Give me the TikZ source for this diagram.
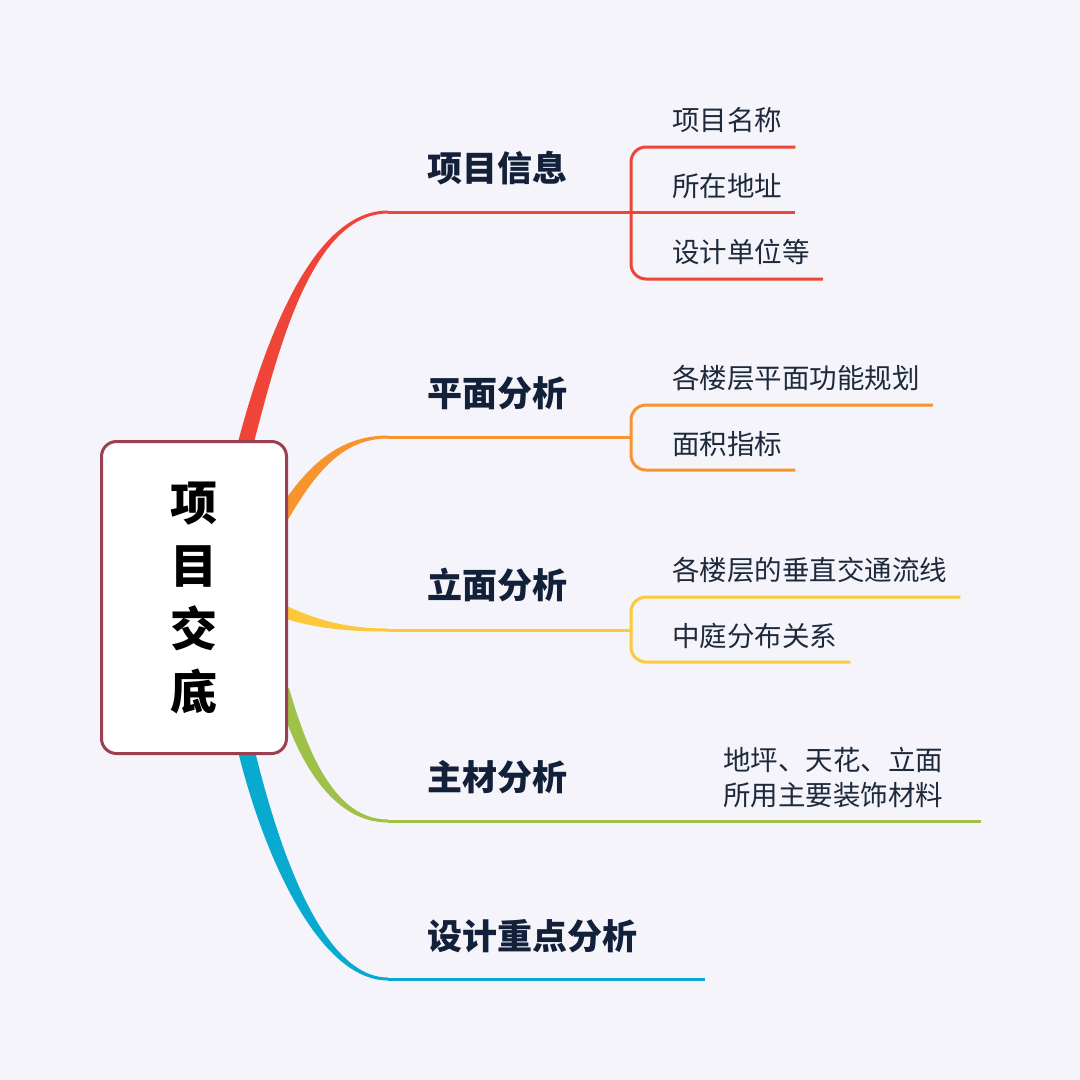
\documentclass[tikz,border=0pt]{standalone}
\usepackage{fontspec}
\setmainfont{Noto Sans CJK SC}
\usetikzlibrary{calc}

\definecolor{bgc}{HTML}{F4F4FA}
\definecolor{boxc}{HTML}{9B4050}
\definecolor{cred}{HTML}{EF4438}
\definecolor{corange}{HTML}{F7942D}
\definecolor{cyellow}{HTML}{FDC93A}
\definecolor{cgreen}{HTML}{A0C148}
\definecolor{cblue}{HTML}{09AAD0}
\definecolor{topictext}{HTML}{13203A}
\definecolor{subtext}{HTML}{1E2A3B}

\begin{document}
\begin{tikzpicture}[x=1pt,y=-1pt,
  topic/.style={anchor=west,inner sep=0pt,font=\fontsize{35}{40}\selectfont\bfseries,text=topictext},
  sub/.style={anchor=west,inner sep=0pt,font=\fontsize{27.5}{35}\selectfont,text=subtext},
  stem/.style={line width=3pt},
  brace/.style={line width=3pt,rounded corners=15pt}]
  \fill[bgc] (0,0) rectangle (1080,1080);

  % tapered branches, drawn under the central box
  \fill[cred] (237,446) .. controls (262,350) and (310,210.5) .. (388,210.5)
    -- (388,213.5) .. controls (312,213.5) and (278,350) .. (253,446) -- cycle;
  \fill[corange] (274,517) .. controls (305,467) and (338,435.5) .. (388,435.5)
    -- (388,438.5) .. controls (342,438.5) and (315,473) .. (286,523) -- cycle;
  \fill[cyellow] (280,603) .. controls (310,617) and (340,628.5) .. (388,628.5)
    -- (388,631.5) .. controls (340,631.5) and (310,627) .. (280,617) -- cycle;
  \fill[cgreen] (289,688) .. controls (309,758) and (337,819.5) .. (388,819.5)
    -- (388,822.5) .. controls (333,822.5) and (297,762) .. (277,692) -- cycle;
  \fill[cblue] (253,743) .. controls (278,848) and (322,977.5) .. (388,977.5)
    -- (388,980.5) .. controls (318,980.5) and (262,852) .. (237,747) -- cycle;

  \node[draw=boxc,line width=3pt,fill=white,rounded corners=15pt,
    minimum width=185pt,minimum height=312pt,align=center,
    font=\fontsize{47}{63}\selectfont\bfseries] (root) at (194,597.5)
    {项\\目\\交\\底};

  \coordinate (rEnd) at (388,212);
  \coordinate (oEnd) at (388,437);
  \coordinate (yEnd) at (388,630);
  \coordinate (gEnd) at (388,821);
  \coordinate (bEnd) at (388,979);

  % main topics
  \node[topic] (info)   at (427,168) {项目信息};
  \node[topic] (plan)   at (427,393) {平面分析};
  \node[topic] (elev)   at (427,585) {立面分析};
  \node[topic] (mater)  at (427,777) {主材分析};
  \node[topic] (design) at (427,936) {设计重点分析};

  % sub topics
  \node[sub] (r1) at (672,120) {项目名称};
  \node[sub] (r2) at (672,186) {所在地址};
  \node[sub] (r3) at (672,252) {设计单位等};
  \node[sub] (o1) at (672,378) {各楼层平面功能规划};
  \node[sub] (o2) at (672,444) {面积指标};
  \node[sub] (y1) at (672,570) {各楼层的垂直交通流线};
  \node[sub] (y2) at (672,636) {中庭分布关系};
  \node[sub,align=left,font=\fontsize{27.5}{35}\selectfont] (g1) at (723,777.5)
    {地坪、天花、立面\\所用主要装饰材料};

  % red
  \draw[stem,cred] (rEnd) -- ($(r2.east)+(13,26)$);
  \draw[brace,cred] ($(r1.east)+(13,27)$) -- (631,147) -- (631,279) -- ($(r3.east)+(13,27)$);
  % orange
  \draw[stem,corange] (oEnd) -- (631,437);
  \draw[brace,corange] ($(o1.east)+(13,27)$) -- (631,405) -- (631,470) -- ($(o2.east)+(13,26)$);
  % yellow
  \draw[stem,cyellow] (yEnd) -- (631,630);
  \draw[brace,cyellow] ($(y1.east)+(13,27)$) -- (631,597) -- (631,662) -- ($(y2.east)+(13,26)$);
  % green and blue
  \draw[stem,cgreen] (gEnd) -- ($(g1.east |- gEnd)+(38,0)$);
  \draw[stem,cblue] (bEnd) -- ($(design.east |- bEnd)+(68,0)$);
\end{tikzpicture}
\end{document}
